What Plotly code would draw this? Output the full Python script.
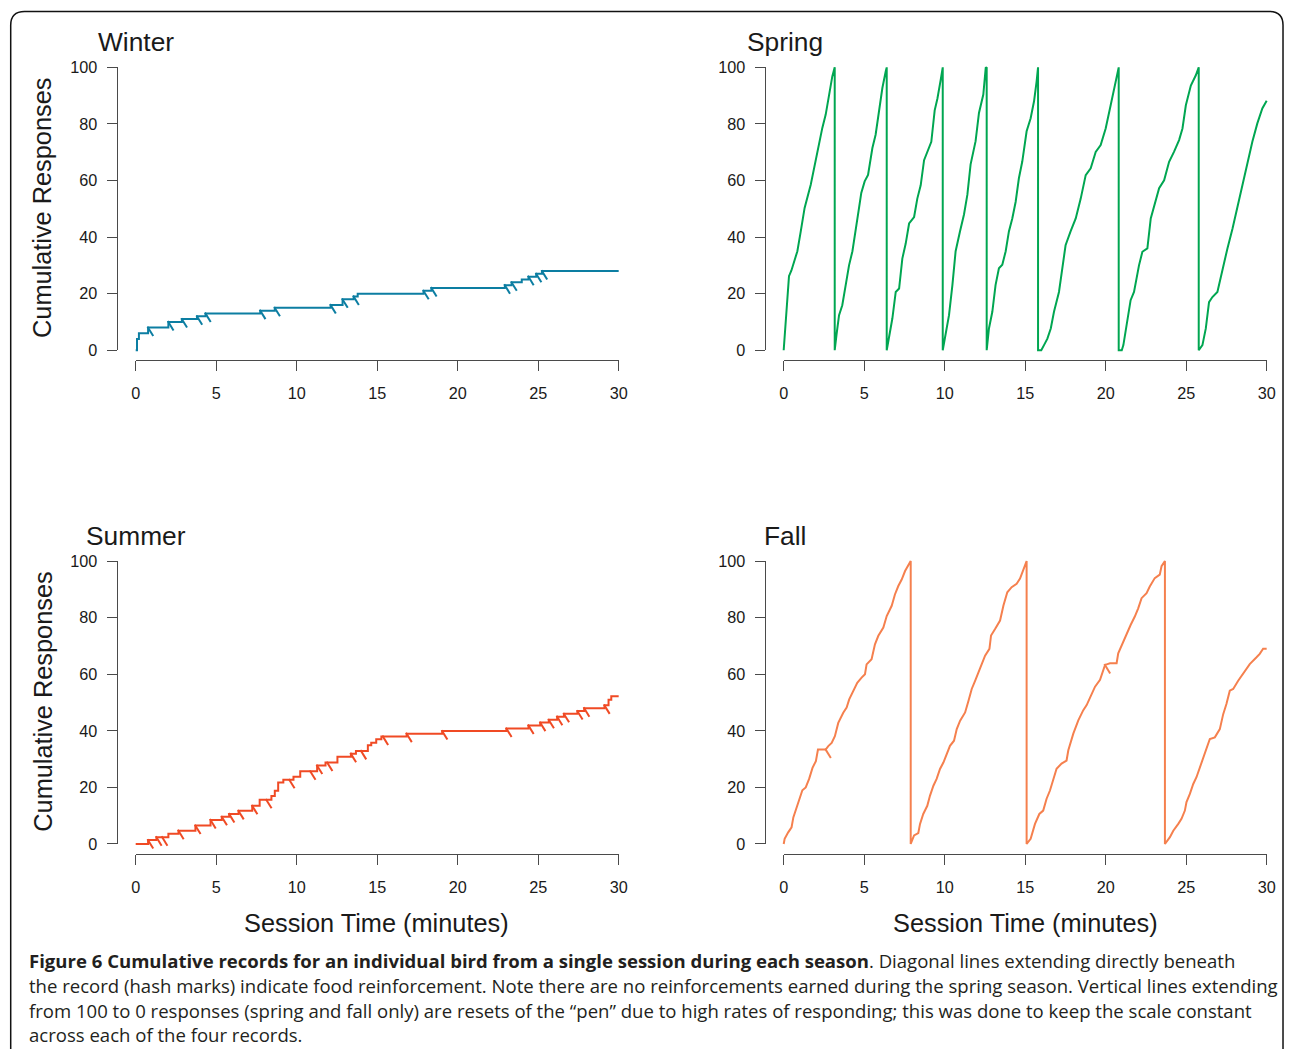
import numpy as np
import plotly.graph_objects as go

W, H = 1293, 1058

# ---------------- data ----------------
x_ticks = [0, 5, 10, 15, 20, 25, 30]
y_ticks = [0, 20, 40, 60, 80, 100]
seasons = ["Winter", "Spring", "Summer", "Fall"]

# Winter: cumulative record (step record)
winter_t = [0, 0.08, 0.2, 0.77, 2.03, 2.87, 3.81, 4.34, 7.74, 8.64, 12.11, 12.85, 13.54, 13.79,
            17.88, 18.37, 22.93, 23.35, 23.98, 24.40, 24.88, 25.24, 30]
winter_c = [0, 4, 6, 8, 10, 11, 12, 13, 14, 15, 16, 18, 19, 20,
            21, 22, 23, 24, 25, 26, 27, 28, 28]
winter_rf = [0.77, 2.03, 2.87, 3.81, 4.34, 7.74, 8.64, 12.11, 12.85, 13.54,
             17.88, 18.37, 22.93, 23.35, 24.40, 24.88, 25.24]

# Spring: cumulative record with pen resets (no reinforcements)
spring_t = [0.0, 0.23, 0.33, 0.48, 0.85, 1.06, 1.30, 1.68, 1.88, 2.13, 2.40, 2.61, 2.82, 3.02, 3.17,
            3.17, 3.29, 3.44, 3.64, 3.85, 4.06, 4.27, 4.47, 4.68, 4.82, 5.03, 5.24, 5.51, 5.71, 5.92, 6.13, 6.34, 6.40,
            6.40, 6.54, 6.75, 6.96, 7.17, 7.37, 7.58, 7.79, 8.10, 8.30, 8.51, 8.72, 8.92, 9.17, 9.38, 9.55, 9.75, 9.88,
            9.88, 10.06, 10.27, 10.48, 10.68, 10.95, 11.20, 11.41, 11.61, 11.92, 12.13, 12.40, 12.55, 12.61,
            12.61, 12.75, 12.96, 13.16, 13.37, 13.58, 13.79, 13.99, 14.20, 14.41, 14.61, 14.82, 15.09, 15.34, 15.55, 15.71, 15.80,
            15.80, 16.00, 16.17, 16.38, 16.59, 16.79, 17.10, 17.31, 17.51, 17.82, 18.14, 18.45, 18.76, 19.07, 19.38, 19.69, 20.00, 20.31, 20.56, 20.81,
            20.81, 21.00, 21.10, 21.35, 21.55, 21.76, 22.07, 22.28, 22.59, 22.80, 23.11, 23.32, 23.63, 23.94, 24.25, 24.56, 24.77, 24.98, 25.29, 25.60, 25.78,
            25.78, 26.01, 26.22, 26.42, 26.63, 26.94, 27.25, 27.56, 27.88, 28.18, 28.49, 28.80, 29.11, 29.42, 29.73, 30.0]
spring_c = [0, 20.8, 26.2, 28.2, 35, 42, 50.3, 58.5, 64.4, 71.5, 78.6, 83.3, 91, 96.8, 100,
            0, 5.9, 12.4, 15.9, 23, 30, 35, 43.2, 50.3, 55.6, 59.7, 62, 71.5, 76.2, 83.9, 92.7, 98.6, 100,
            0, 4.1, 11.2, 20.6, 21.8, 32.4, 37.7, 44.8, 47.1, 53.6, 58.3, 67.2, 70.1, 73.7, 84.8, 89, 95.5, 100,
            0, 5.9, 12.4, 23, 35, 42, 48, 55, 65.7, 73.9, 83.9, 90.4, 99.8, 100,
            0, 7.7, 13.6, 23, 29, 30.2, 35, 42, 46.6, 52.5, 60.8, 66.7, 77.4, 82, 88, 95, 100,
            0, 0, 1.8, 4.1, 7.7, 13.6, 20.6, 30, 37.1, 42, 46.6, 53.6, 61.9, 64.3, 70.1, 72.5, 78.4, 86.6, 93.7, 100,
            0, 0, 1.8, 11.2, 17.7, 20.6, 30, 34.8, 36, 46.6, 52.5, 57.3, 60.1, 66.6, 70.2, 74.3, 78.4, 86.6, 93.6, 97.2, 100,
            0, 1.8, 7.7, 17, 18.8, 20.6, 28.8, 35.9, 43, 50.6, 58.9, 66.6, 73.7, 80.2, 85.5, 88.2]
spring_rf = []

# Summer: cumulative record (step record)
summer_t = [0, 0.77, 1.29, 2.03, 2.66, 3.71, 4.65, 5.35, 5.81, 6.39, 7.24, 7.70, 8.43, 8.64, 8.85,
            9.17, 9.80, 10.22, 11.27, 11.79, 12.53, 13.37, 13.68, 14.42, 14.63, 14.94, 15.26, 16.83,
            19.04, 23.03, 24.40, 25.13, 25.66, 26.18, 26.60, 27.44, 27.86, 29.12, 29.37, 29.54, 30]
summer_c = [0, 1.4, 2.4, 3.6, 4.7, 6.5, 8.5, 9.6, 10.6, 11.7, 13.5, 15.6, 17.0, 18.8, 21.7,
            22.7, 23.8, 25.7, 27.7, 28.8, 30.8, 31.9, 32.9, 34.9, 35.8, 37.0, 38.0, 39.0,
            39.9, 40.8, 41.9, 42.9, 43.9, 45.0, 46.0, 47.0, 48.0, 49.0, 51.0, 52.2, 52.2]
summer_rf = [0.77, 1.29, 1.65, 2.66, 3.71, 4.65, 5.35, 5.81, 6.39, 7.24, 8.12, 9.55, 10.85, 11.27,
             11.90, 13.37, 14.0, 15.36, 16.83, 19.04, 23.03, 24.40, 25.13, 25.66, 26.18, 26.60,
             27.44, 27.86, 29.12]

# Fall: cumulative record with pen resets
fall_t = [0, 0.06, 0.28, 0.49, 0.60, 0.81, 0.95, 1.16, 1.37, 1.58, 1.79, 2.00, 2.13, 2.61, 2.77, 2.98, 3.18, 3.39,
          3.70, 3.91, 4.07, 4.32, 4.57, 4.84, 5.05, 5.15, 5.46, 5.67, 5.88, 6.19, 6.40, 6.71, 6.91, 7.12, 7.33, 7.54, 7.74, 7.89,
          7.89, 8.10, 8.36, 8.47, 8.67, 8.92, 9.09, 9.30, 9.50, 9.71, 9.92, 10.13, 10.33, 10.58, 10.75, 10.96, 11.27, 11.48,
          11.68, 11.89, 12.10, 12.30, 12.51, 12.78, 12.88, 13.13, 13.44, 13.65, 13.89, 14.16, 14.47, 14.68, 14.88, 15.05, 15.09,
          15.09, 15.34, 15.61, 15.88, 16.12, 16.33, 16.54, 16.74, 16.95, 17.26, 17.57, 17.68, 17.99, 18.30, 18.61, 18.82, 19.03,
          19.34, 19.65, 19.96, 20.27, 20.68, 20.78, 20.99, 21.30, 21.55, 21.81, 22.02, 22.23, 22.54, 22.74, 23.05, 23.36, 23.47, 23.68,
          23.68, 23.99, 24.20, 24.51, 24.71, 24.92, 25.02, 25.23, 25.44, 25.64, 25.85, 26.16, 26.47, 26.78, 27.09, 27.30, 27.50,
          27.71, 27.92, 28.23, 28.54, 28.95, 29.37, 29.57, 29.78, 30.0]
fall_c = [0, 1.8, 4.1, 5.9, 9.4, 13, 16, 19, 20, 23, 26.9, 29.3, 33.4, 33.4, 34.6, 35.7, 38.1, 42.8,
          46.4, 48.2, 51.1, 54.1, 57, 58.8, 60, 63.5, 65.3, 70.6, 73.6, 76.5, 80.6, 84.2, 88.2, 91.2, 93.5, 96.5, 98.8, 100,
          0, 3, 3.8, 7.1, 10.6, 13.5, 17.1, 20.6, 23, 26.5, 28.8, 31.8, 34.7, 36.5, 40.6, 43.6, 46.5, 50.6,
          54.8, 57.7, 60.7, 64.2, 66.6, 69, 73.7, 76, 79, 84.3, 89, 90.8, 92, 93.8, 96.7, 99.6, 100,
          0, 1.8, 7.1, 10.6, 11.8, 16, 18.9, 22.4, 26.6, 28.4, 29.5, 33.1, 39, 43.7, 47.3, 49.1, 52,
          55.6, 58, 63.3, 63.9, 63.9, 67.4, 70.3, 74.5, 77.4, 80.4, 83.3, 86.9, 88.7, 91, 94, 95.2, 98.2, 100,
          0, 2.4, 4.7, 7.1, 8.9, 11.8, 14.8, 17.7, 21.2, 23.6, 27.1, 31.8, 37.1, 37.7, 40.6, 45.9, 49.5,
          54.2, 54.8, 57.7, 60.1, 63.6, 66, 67.2, 69, 69]
fall_rf = [2.61, 19.96]

caption_lines = [
    "<b>Figure 6 Cumulative records for an individual bird from a single session during each season</b>. Diagonal lines extending directly beneath",
    "the record (hash marks) indicate food reinforcement. Note there are no reinforcements earned during the spring season. Vertical lines extending",
    "from 100 to 0 responses (spring and fall only) are resets of the \u201cpen\u201d due to high rates of responding; this was done to keep the scale constant",
    "across each of the four records.",
]

# ---------------- style / layout ----------------
AX = "#4a4a4a"
TXT = "#1a1a1a"
FONT = "Liberation Sans, Arial, sans-serif"
CAP_FONT = "Open Sans, Noto Sans, sans-serif"

# screen-position calibration (observed page -> photo mapping)
SX, OX = 0.9892, 4.3
SY, OY = 0.9835, 7.6
FS = 1 / ((SX + SY) / 2)


def X(px):
    return (px - OX) / SX


def Y(py):
    return (py - OY) / SY


panels = [
    dict(t=winter_t, c=winter_c, rf=winter_rf, shape="hv", color="#0c7ea2", px0=135, px1=618, py0=349, py1=66),
    dict(t=spring_t, c=spring_c, rf=spring_rf, shape="linear", color="#00a651", px0=783, px1=1266, py0=349, py1=66),
    dict(t=summer_t, c=summer_c, rf=summer_rf, shape="hv", color="#f04a24", px0=135, px1=618, py0=843, py1=560),
    dict(t=fall_t, c=fall_c, rf=fall_rf, shape="linear", color="#f5804e", px0=783, px1=1266, py0=843, py1=560),
]

HASH_DT, HASH_DC = 0.32, 3.0  # hash mark offset (style)
XPAD, YLO, YHI = 1.0, -8.0, 104.0

fig = go.Figure()
layout = dict()

for i, p in enumerate(panels):
    n = i + 1
    m = i + 5
    t = np.array(p["t"], float)
    c = np.array(p["c"], float)
    x0, x1 = X(p["px0"]), X(p["px1"])
    y0, y1 = Y(p["py0"]), Y(p["py1"])
    sx = (x1 - x0) / 30.0
    sy = (y0 - y1) / 100.0

    # data axes (hidden, padded)
    layout[f"xaxis{n}"] = dict(domain=[(x0 - XPAD * sx) / W, (x1 + XPAD * sx) / W],
                               range=[-XPAD, 30 + XPAD], visible=False,
                               anchor=f"y{n}", fixedrange=True)
    layout[f"yaxis{n}"] = dict(domain=[1 - (y0 - YLO * sy) / H, 1 - (y1 - (YHI - 100) * sy) / H],
                               range=[YLO, YHI], visible=False,
                               anchor=f"x{n}", fixedrange=True)

    # display axes (R-style detached)
    layout[f"xaxis{m}"] = dict(domain=[x0 / W, x1 / W], range=[0, 30],
                               anchor="free", position=1 - Y(p["py0"] + 10) / H,
                               tickvals=x_ticks, ticks="outside", ticklen=10, tickwidth=1.3,
                               tickcolor=AX, showline=True, linecolor=AX, linewidth=1.3,
                               showgrid=False, zeroline=False, ticklabelstandoff=8,
                               tickfont=dict(family=FONT, size=16 * FS, color=TXT), fixedrange=True)
    layout[f"yaxis{m}"] = dict(domain=[1 - y0 / H, 1 - y1 / H], range=[0, 100],
                               anchor="free", position=X(p["px0"] - 19) / W,
                               tickvals=y_ticks, ticks="outside", ticklen=10, tickwidth=1.3,
                               tickcolor=AX, showline=True, linecolor=AX, linewidth=1.3,
                               showgrid=False, zeroline=False, ticklabelstandoff=6,
                               tickfont=dict(family=FONT, size=16 * FS, color=TXT), fixedrange=True)
    fig.add_trace(go.Scatter(x=[], y=[], xaxis=f"x{m}", yaxis=f"y{m}", showlegend=False,
                             hoverinfo="skip"))

    # the record
    fig.add_trace(go.Scatter(x=t, y=c, mode="lines", xaxis=f"x{n}", yaxis=f"y{n}",
                             line=dict(color=p["color"], width=2, shape=p["shape"]),
                             showlegend=False, hoverinfo="skip"))

    # hash marks for reinforcements
    if len(p["rf"]):
        hx, hy = [], []
        for rt in p["rf"]:
            if p["shape"] == "hv":
                rc = c[np.searchsorted(t, rt, side="right") - 1]
            else:
                rc = np.interp(rt, t, c)
            hx += [rt - 0.04, rt + HASH_DT, None]
            hy += [rc + 0.3, rc - HASH_DC, None]
        fig.add_trace(go.Scatter(x=hx, y=hy, mode="lines", xaxis=f"x{n}", yaxis=f"y{n}",
                                 line=dict(color=p["color"], width=2),
                                 showlegend=False, hoverinfo="skip"))

annotations = []
# panel titles
for name, (px, py) in zip(seasons, [(135, 41), (784, 41), (135, 535), (784, 535)]):
    annotations.append(dict(text=name, x=X(px) / W, y=1 - Y(py) / H, xref="paper", yref="paper",
                            xanchor="center", yanchor="middle", showarrow=False,
                            font=dict(family=FONT, size=26 * FS, color=TXT)))
# axis titles
for py in (207, 701):
    annotations.append(dict(text="Cumulative Responses", x=X(42) / W, y=1 - Y(py) / H, xref="paper",
                            yref="paper", xanchor="center", yanchor="middle", textangle=-90,
                            showarrow=False, font=dict(family=FONT, size=25 * FS, color=TXT)))
for px in (376, 1025):
    annotations.append(dict(text="Session Time (minutes)", x=X(px) / W, y=1 - Y(922) / H, xref="paper",
                            yref="paper", xanchor="center", yanchor="middle",
                            showarrow=False, font=dict(family=FONT, size=25 * FS, color=TXT)))
# caption
for line, py in zip(caption_lines, [960, 985, 1010, 1034]):
    annotations.append(dict(text=line, x=X(26) / W, y=1 - Y(py) / H, xref="paper", yref="paper",
                            xanchor="left", yanchor="middle", showarrow=False, align="left",
                            font=dict(family=CAP_FONT, size=18.3 * FS, color="#231f20")))


# rounded frame (open at the bottom), kept inside the page
def P(x, y):
    return f"{x / W:.5f},{1 - y / H:.5f}"


fl, ft = X(10), Y(10)
fr = min(X(1291), W - 1)
frame = (f"M {P(fl, H)} L {P(fl, ft + 14)} Q {P(fl, ft)} {P(fl + 14, ft)} "
         f"L {P(fr - 14, ft)} Q {P(fr, ft)} {P(fr, ft + 14)} L {P(fr, H)}")

fig.update_layout(
    width=W, height=H, margin=dict(l=0, r=0, t=0, b=0),
    paper_bgcolor="white", plot_bgcolor="rgba(0,0,0,0)",
    showlegend=False, annotations=annotations,
    shapes=[dict(type="path", path=frame, xref="paper", yref="paper",
                 line=dict(color="#111111", width=1.5))],
    **layout,
)

fig.write_html("out.html")
